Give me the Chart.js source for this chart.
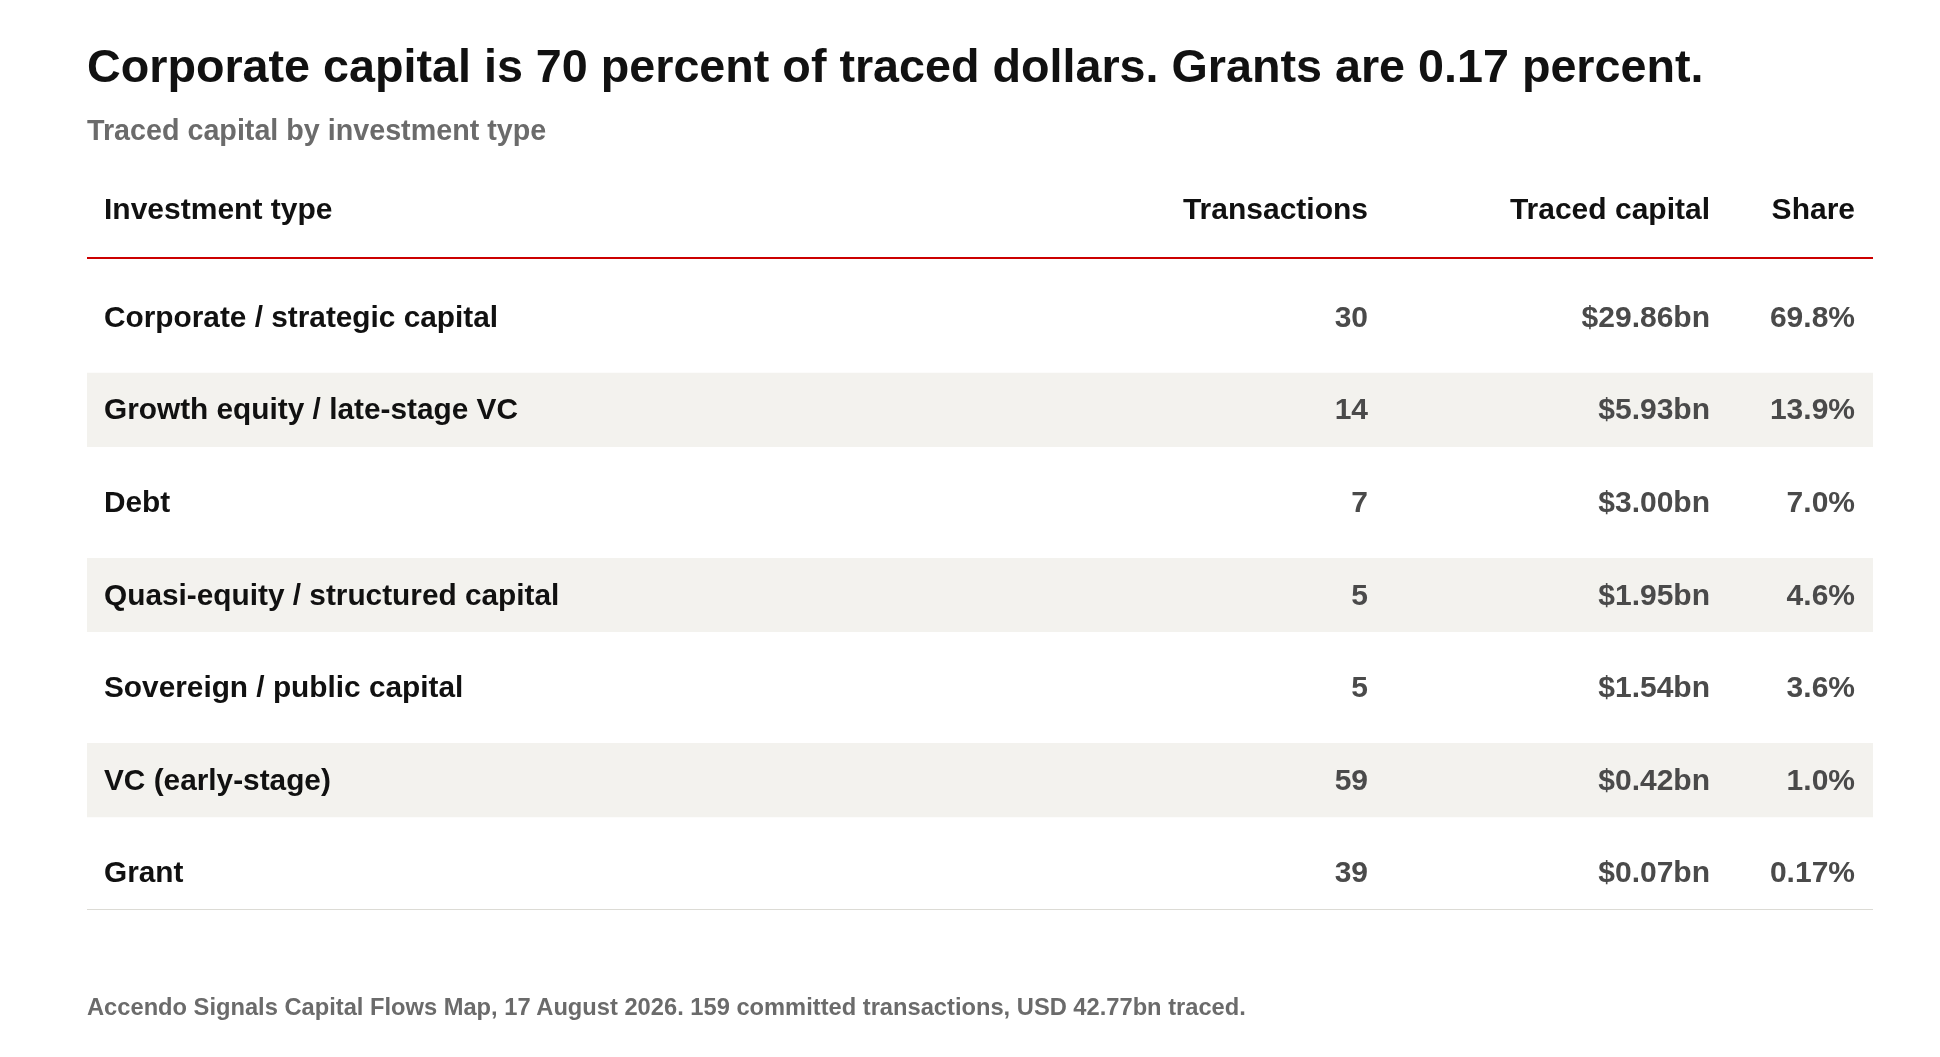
<!DOCTYPE html>
<html>
<head>
<meta charset="utf-8">
<script src="https://cdn.jsdelivr.net/npm/chart.js@4/dist/chart.umd.min.js"></script>
<style>
  html, body { margin: 0; padding: 0; background: #ffffff; }
  body { width: 1940px; height: 1057px; position: relative; overflow: hidden; font-family: "Liberation Sans", Arial, sans-serif; }
  .txt { position: absolute; left: 87px; white-space: nowrap; line-height: 1; font-weight: bold; }
  #title { top: 43px; font-size: 46.7px; color: #111111; }
  #subtitle { top: 116px; font-size: 28.7px; color: #6b6b6b; }
  #note { top: 996px; font-size: 23.7px; color: #6b6b6b; }
  #wrap { position: absolute; left: 0; top: 0; width: 1940px; height: 1057px; }
</style>
</head>
<body>
<div id="wrap"><canvas id="c" width="1940" height="1057"></canvas></div>
<div class="txt" id="title">Corporate capital is 70 percent of traced dollars. Grants are 0.17 percent.</div>
<div class="txt" id="subtitle">Traced capital by investment type</div>
<div class="txt" id="note">Accendo Signals Capital Flows Map, 17 August 2026. 159 committed transactions, USD 42.77bn traced.</div>
<script>
// ---- data ----
const columnHeaders = ["Investment type", "Transactions", "Traced capital", "Share"];
const categories = [
  "Corporate / strategic capital",
  "Growth equity / late-stage VC",
  "Debt",
  "Quasi-equity / structured capital",
  "Sovereign / public capital",
  "VC (early-stage)",
  "Grant"
];
const transactions = [30, 14, 7, 5, 5, 59, 39];
const tracedCapitalBn = [29.86, 5.93, 3.00, 1.95, 1.54, 0.42, 0.07];
const sharePct = [69.8, 13.9, 7.0, 4.6, 3.6, 1.0, 0.17];

// ---- layout (table coordinates in px along the x scale) ----
const TABLE_W = 1786;
const COL_X = { label: 17, transactions: 1281, traced: 1623, share: 1768 };
const FONT = '"Liberation Sans", Arial, sans-serif';

const fmtCapital = v => "$" + v.toFixed(2) + "bn";
const fmtShare = v => (v < 1 ? v.toFixed(2) : v.toFixed(1)) + "%";

const tablePlugin = {
  id: "tableText",
  afterDatasetsDraw(chart) {
    const ctx = chart.ctx;
    const xs = chart.scales.x, ys = chart.scales.y;
    const x0 = xs.getPixelForValue(0), x1 = xs.getPixelForValue(TABLE_W);
    const r0 = ys.getPixelForValue(0);
    const pitch = ys.getPixelForValue(1) - r0;
    ctx.save();
    // header
    ctx.font = "bold 30px " + FONT;
    ctx.fillStyle = "#111111";
    ctx.textBaseline = "alphabetic";
    const hy = r0 - 97.9;
    ctx.textAlign = "left";
    ctx.fillText(columnHeaders[0], xs.getPixelForValue(COL_X.label), hy);
    ctx.textAlign = "right";
    ctx.fillText(columnHeaders[1], xs.getPixelForValue(COL_X.transactions), hy);
    ctx.fillText(columnHeaders[2], xs.getPixelForValue(COL_X.traced), hy);
    ctx.fillText(columnHeaders[3], xs.getPixelForValue(COL_X.share), hy);
    // red rule under header
    ctx.fillStyle = "#cc0000";
    ctx.fillRect(x0, Math.round(r0 - 60.4), x1 - x0, 2);
    // bottom rule
    const lastY = ys.getPixelForValue(categories.length - 1);
    ctx.fillStyle = "#dcdbd5";
    ctx.fillRect(x0, Math.round(lastY + pitch * 0.4) - 1, x1 - x0, 1);
    // rows
    categories.forEach((cat, i) => {
      const y = ys.getPixelForValue(i) + 9.6;
      ctx.font = "bold 29.8px " + FONT;
      ctx.textAlign = "left";
      ctx.fillStyle = "#111111";
      ctx.fillText(cat, xs.getPixelForValue(COL_X.label), y);
      ctx.textAlign = "right";
      ctx.fillStyle = "#4a4a4a";
      ctx.font = "bold 30px " + FONT;
      ctx.fillText(String(transactions[i]), xs.getPixelForValue(COL_X.transactions), y);
      ctx.fillText(fmtCapital(tracedCapitalBn[i]), xs.getPixelForValue(COL_X.traced), y);
      ctx.fillText(fmtShare(sharePct[i]), xs.getPixelForValue(COL_X.share), y);
    });
    ctx.restore();
  }
};

new Chart(document.getElementById("c"), {
  type: "bar",
  data: {
    labels: categories,
    datasets: [{
      label: "row band",
      data: categories.map((c, i) => (i % 2 === 1 ? [0, TABLE_W] : null)),
      backgroundColor: "#f3f2ee",
      borderWidth: 0,
      barPercentage: 0.8,
      categoryPercentage: 1.0
    }]
  },
  options: {
    indexAxis: "y",
    responsive: false,
    animation: false,
    devicePixelRatio: 1,
    layout: { padding: { left: 87, right: 67, top: 271, bottom: 138 } },
    plugins: { legend: { display: false }, tooltip: { enabled: false }, title: { display: false } },
    scales: {
      x: { type: "linear", min: 0, max: TABLE_W, display: false },
      y: { type: "category", display: false, offset: true }
    }
  },
  plugins: [tablePlugin]
});
</script>
</body>
</html>
